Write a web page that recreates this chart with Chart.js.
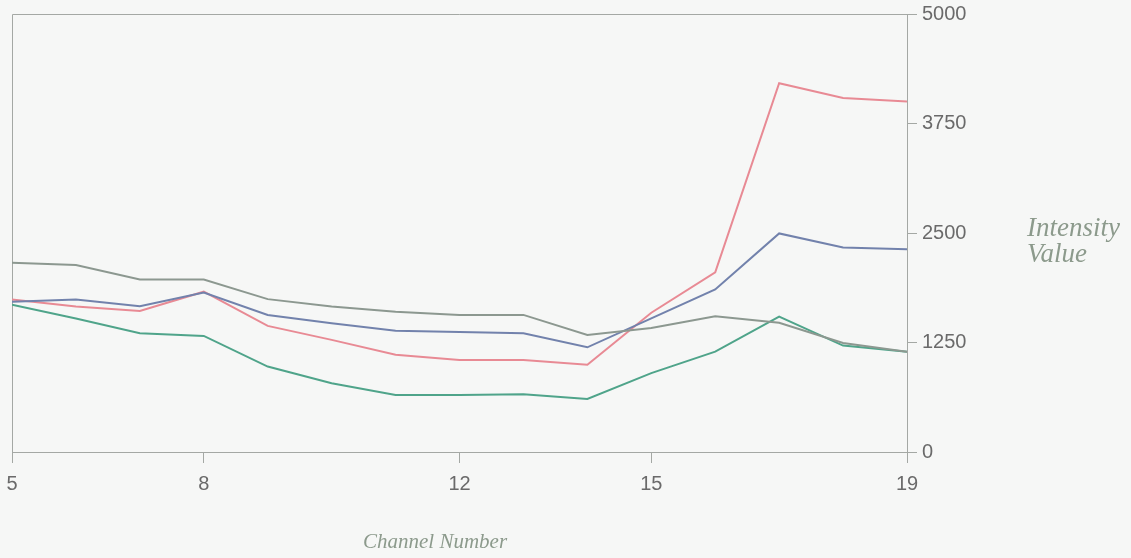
<!DOCTYPE html>
<html>
<head>
<meta charset="utf-8">
<script src="https://cdn.jsdelivr.net/npm/chart.js@4/dist/chart.umd.min.js"></script>
<style>
  html, body { margin: 0; padding: 0; background: #f6f7f6; }
  #wrap { position: relative; width: 1131px; height: 558px; }
  .ttl { position: absolute; font-family: "Liberation Serif", serif; font-style: italic; color: #8c9a8c; white-space: nowrap; }
</style>
</head>
<body>
<div id="wrap">
  <canvas id="chart" width="1131" height="558"></canvas>
  <div class="ttl" style="left:1027px; top:214px; font-size:27px; line-height:26px;">Intensity<br>Value</div>
  <div class="ttl" style="left:363px; top:529px; font-size:21px; line-height:24px;">Channel Number</div>
</div>
<script>
// Canales y valores
const channels = [5, 6, 7, 8, 9, 10, 11, 12, 13, 14, 15, 16, 17, 18, 19];
const redValues   = [1740, 1660, 1610, 1830, 1440, 1280, 1110, 1050, 1050, 995, 1590, 2050, 4210, 4040, 4000];
const blueValues  = [1715, 1740, 1665, 1820, 1565, 1470, 1385, 1370, 1355, 1195, 1525, 1855, 2495, 2335, 2315];
const grayValues  = [2160, 2135, 1970, 1970, 1745, 1660, 1600, 1565, 1565, 1335, 1415, 1550, 1475, 1245, 1145];
const greenValues = [1680, 1525, 1355, 1325, 975, 785, 650, 650, 660, 605, 900, 1145, 1545, 1215, 1145];
const xTicks = [5, 8, 12, 15, 19];
const yTicks = [0, 1250, 2500, 3750, 5000];

const toPoints = vals => channels.map((c, i) => ({ x: c, y: vals[i] }));

// quitar el relleno automatico por etiquetas para fijar el area
const noPad = s => { s.paddingLeft = 0; s.paddingRight = 0; s.paddingTop = 0; s.paddingBottom = 0; };

// marco izquierdo y superior del area de trazado
const frame = {
    id: 'frame',
    beforeDatasetsDraw(chart) {
        const a = chart.chartArea;
        const c = chart.ctx;
        c.save();
        c.strokeStyle = '#a4a8a4';
        c.lineWidth = 1;
        c.beginPath();
        c.moveTo(a.left + 0.5, a.bottom);
        c.lineTo(a.left + 0.5, a.top + 0.5);
        c.lineTo(a.right, a.top + 0.5);
        c.stroke();
        c.restore();
    }
};

const chart = new Chart(document.getElementById('chart'), {
    type: 'line',
    data: {
        datasets: [
            { data: toPoints(grayValues),  borderColor: '#8c9890', borderWidth: 2 },
            { data: toPoints(blueValues),  borderColor: '#7282ac', borderWidth: 2 },
            { data: toPoints(redValues),   borderColor: '#e88a94', borderWidth: 2 },
            { data: toPoints(greenValues), borderColor: '#4fa48a', borderWidth: 2 }
        ]
    },
    options: {
        responsive: false,
        animation: false,
        elements: { point: { radius: 0 }, line: { tension: 0 } },
        layout: { padding: { left: 12, top: 14, right: 0, bottom: 0 } },
        plugins: { legend: { display: false }, tooltip: { enabled: false } },
        scales: {
            x: {
                type: 'linear',
                min: 5,
                max: 19,
                afterBuildTicks: s => { s.ticks = xTicks.map(v => ({ value: v })); },
                afterFit: s => { s.height = 106; noPad(s); },
                border: { color: '#a4a8a4' },
                grid: { drawOnChartArea: false, tickLength: 11, color: '#a4a8a4' },
                ticks: { color: '#6a6a6a', padding: 9, maxRotation: 0, callback: v => String(v), font: { family: 'Liberation Sans', size: 20 } }
            },
            y: {
                position: 'right',
                min: 0,
                max: 5000,
                afterBuildTicks: s => { s.ticks = yTicks.map(v => ({ value: v })); },
                afterFit: s => { s.width = 224; noPad(s); },
                border: { color: '#a4a8a4' },
                grid: { drawOnChartArea: false, tickLength: 10, color: '#a4a8a4' },
                ticks: { color: '#6a6a6a', padding: 5, callback: v => String(v), font: { family: 'Liberation Sans', size: 20 } }
            }
        }
    },
    plugins: [frame]
});
</script>
</body>
</html>
